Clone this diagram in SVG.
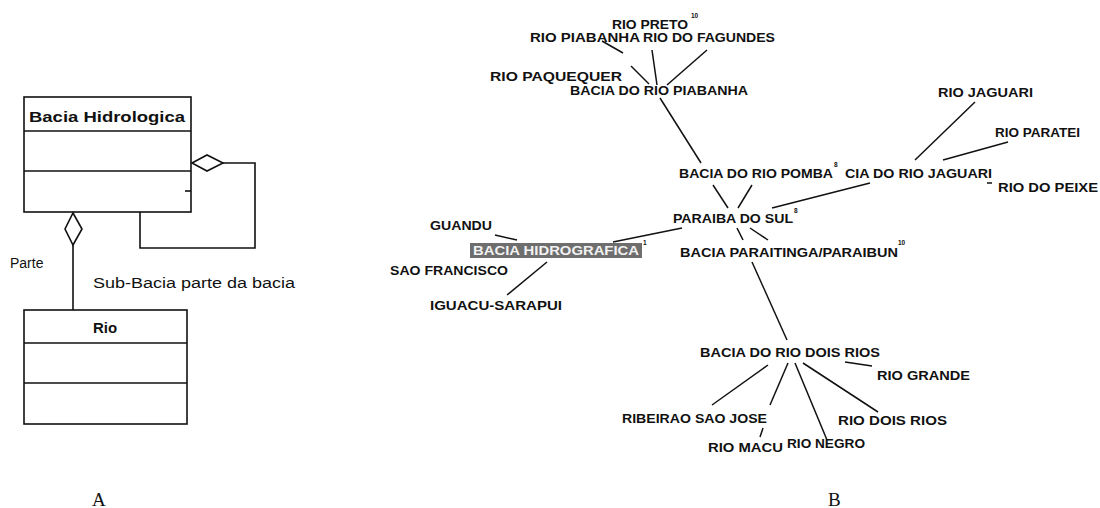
<svg xmlns="http://www.w3.org/2000/svg" width="1100" height="508" viewBox="0 0 1100 508">
<style>
.box{fill:#fff;stroke:#111;stroke-width:1.6}
.ln{stroke:#111;stroke-width:1.6;fill:none}
.tl{stroke:#111;stroke-width:1.5;fill:none}
.uml{font-family:"Liberation Sans",Arial,sans-serif;fill:#111}
.lb{font-family:"Liberation Sans",Arial,sans-serif;font-weight:bold;font-size:12.5px;fill:#111}
.sup{font-family:"Liberation Sans",Arial,sans-serif;font-weight:bold;font-size:6.5px;fill:#111}
.cap{font-family:"Liberation Serif","Times New Roman",serif;font-size:19px;fill:#111}
</style>
<rect width="1100" height="508" fill="#fff"/>

<!-- Part A: UML -->
<g id="bacia-hidrologica">
<rect class="box" x="24" y="97" width="167" height="115"/>
<line class="ln" x1="24" y1="131" x2="191" y2="131"/>
<line class="ln" x1="24" y1="171" x2="191" y2="171"/>
<line class="ln" x1="185" y1="191" x2="191" y2="191"/>
<text class="uml" x="29" y="122" font-size="15" font-weight="bold" textLength="156" lengthAdjust="spacingAndGlyphs">Bacia  Hidrologica</text>
</g>
<g id="rio">
<rect class="box" x="24" y="310" width="163" height="114"/>
<line class="ln" x1="24" y1="343" x2="187" y2="343"/>
<line class="ln" x1="24" y1="383" x2="187" y2="383"/>
<text class="uml" x="105" y="333" font-size="15" font-weight="bold" text-anchor="middle">Rio</text>
</g>
<g id="uml-connectors">
<polygon class="box" points="192,163 207,155 223,163 207,171"/>
<polyline class="ln" points="223,163 255,163 255,248 140,248 140,212"/>
<polygon class="box" points="73,213 82,229 73,245 65,229"/>
<line class="ln" x1="73" y1="245" x2="73" y2="310"/>
</g>
<text class="uml" x="10" y="268" font-size="14">Parte</text>
<text class="uml" x="93" y="288" font-size="14" textLength="202" lengthAdjust="spacingAndGlyphs">Sub-Bacia parte da bacia</text>

<!-- Part B: tree -->
<g id="tree-connectors">
<line class="tl" x1="602" y1="41" x2="623" y2="53"/>
<line class="tl" x1="631" y1="66" x2="649" y2="84"/>
<line class="tl" x1="652" y1="50" x2="657" y2="85"/>
<line class="tl" x1="707" y1="50" x2="667" y2="85"/>
<line class="tl" x1="660" y1="98" x2="701" y2="163"/>
<line class="tl" x1="713" y1="185" x2="728" y2="208"/>
<line class="tl" x1="752" y1="185" x2="738" y2="208"/>
<line class="tl" x1="975" y1="102" x2="915" y2="160"/>
<line class="tl" x1="1008" y1="142" x2="943" y2="160"/>
<line class="tl" x1="987" y1="183" x2="992" y2="183"/>
<line class="tl" x1="772" y1="208" x2="870" y2="183"/>
<line class="tl" x1="613" y1="242" x2="682" y2="228"/>
<line class="tl" x1="495" y1="235" x2="517" y2="240"/>
<line class="tl" x1="547" y1="262" x2="507" y2="295"/>
<line class="tl" x1="737" y1="228" x2="743" y2="240"/>
<line class="tl" x1="750" y1="228" x2="768" y2="240"/>
<line class="tl" x1="752" y1="262" x2="787" y2="340"/>
<line class="tl" x1="768" y1="365" x2="712" y2="405"/>
<line class="tl" x1="788" y1="363" x2="770" y2="405"/>
<line class="tl" x1="795" y1="363" x2="827" y2="440"/>
<line class="tl" x1="803" y1="363" x2="878" y2="412"/>
<line class="tl" x1="845" y1="362" x2="872" y2="366"/>
<line class="tl" x1="763" y1="428" x2="760" y2="437"/>
</g>

<g id="n-rio-preto"><text class="lb" x="612" y="29" textLength="76" lengthAdjust="spacingAndGlyphs">RIO PRETO</text><text class="sup" x="691" y="18">10</text></g>
<g id="n-rio-piabanha"><text class="lb" x="530" y="42" textLength="110" lengthAdjust="spacingAndGlyphs">RIO PIABANHA</text></g>
<g id="n-rio-do-fagundes"><text class="lb" x="643" y="42" textLength="132" lengthAdjust="spacingAndGlyphs">RIO DO FAGUNDES</text></g>
<g id="n-rio-paquequer"><text class="lb" x="490" y="81" textLength="132" lengthAdjust="spacingAndGlyphs">RIO PAQUEQUER</text></g>
<g id="n-bacia-piabanha"><text class="lb" x="570" y="95" textLength="178" lengthAdjust="spacingAndGlyphs">BACIA DO RIO PIABANHA</text></g>
<g id="n-rio-jaguari"><text class="lb" x="938" y="97" textLength="95" lengthAdjust="spacingAndGlyphs">RIO JAGUARI</text></g>
<g id="n-rio-paratei"><text class="lb" x="995" y="137" textLength="85" lengthAdjust="spacingAndGlyphs">RIO PARATEI</text></g>
<g id="n-bacia-pomba"><text class="lb" x="679" y="178" textLength="154" lengthAdjust="spacingAndGlyphs">BACIA DO RIO POMBA</text><text class="sup" x="834" y="167">8</text></g>
<g id="n-bacia-jaguari"><text class="lb" x="845" y="178" textLength="147" lengthAdjust="spacingAndGlyphs">CIA DO RIO JAGUARI</text></g>
<g id="n-rio-do-peixe"><text class="lb" x="998" y="192" textLength="100" lengthAdjust="spacingAndGlyphs">RIO DO PEIXE</text></g>
<g id="n-paraiba-do-sul"><text class="lb" x="673" y="223" textLength="120" lengthAdjust="spacingAndGlyphs">PARAIBA DO SUL</text><text class="sup" x="794" y="213">8</text></g>
<g id="n-guandu"><text class="lb" x="430" y="230" textLength="62" lengthAdjust="spacingAndGlyphs">GUANDU</text></g>
<g id="n-bacia-hidrografica"><rect x="470" y="243" width="172" height="15" fill="#6e6e6e"/><text class="lb" x="473" y="255" fill="#f2f2f2" style="fill:#f2f2f2" textLength="166" lengthAdjust="spacingAndGlyphs">BACIA HIDROGRAFICA</text><text class="sup" x="643" y="245">1</text></g>
<g id="n-sao-francisco"><text class="lb" x="390" y="275" textLength="118" lengthAdjust="spacingAndGlyphs">SAO FRANCISCO</text></g>
<g id="n-iguacu-sarapui"><text class="lb" x="430" y="310" textLength="132" lengthAdjust="spacingAndGlyphs">IGUACU-SARAPUI</text></g>
<g id="n-bacia-paraitinga"><text class="lb" x="680" y="257" textLength="218" lengthAdjust="spacingAndGlyphs">BACIA PARAITINGA/PARAIBUN</text><text class="sup" x="898" y="245">10</text></g>
<g id="n-bacia-dois-rios"><text class="lb" x="700" y="357" textLength="180" lengthAdjust="spacingAndGlyphs">BACIA DO RIO DOIS RIOS</text></g>
<g id="n-rio-grande"><text class="lb" x="877" y="380" textLength="93" lengthAdjust="spacingAndGlyphs">RIO GRANDE</text></g>
<g id="n-ribeirao-sao-jose"><text class="lb" x="622" y="423" textLength="145" lengthAdjust="spacingAndGlyphs">RIBEIRAO SAO JOSE</text></g>
<g id="n-rio-dois-rios"><text class="lb" x="838" y="425" textLength="109" lengthAdjust="spacingAndGlyphs">RIO DOIS RIOS</text></g>
<g id="n-rio-macu"><text class="lb" x="708" y="452" textLength="75" lengthAdjust="spacingAndGlyphs">RIO MACU</text></g>
<g id="n-rio-negro"><text class="lb" x="787" y="448" textLength="78" lengthAdjust="spacingAndGlyphs">RIO NEGRO</text></g>

<text class="cap" x="92" y="506">A</text>
<text class="cap" x="828" y="506">B</text>
</svg>
